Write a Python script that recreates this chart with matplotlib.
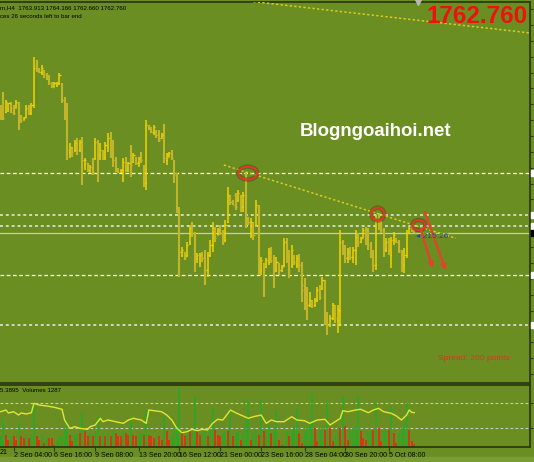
import numpy as np
import matplotlib
matplotlib.use("Agg")
import matplotlib.pyplot as plt
from matplotlib.patches import Ellipse, Rectangle
from matplotlib import patheffects as pe
import matplotlib.transforms as mtransforms

# ---------------- data (XAUUSD H4) ----------------
opens = [1814.0, 1811.1, 1812.3, 1814.0, 1816.0, 1814.0, 1814.0, 1816.0, 1810.3, 1809.1,
         1810.3, 1814.0, 1811.9, 1815.2, 1831.6, 1829.6, 1828.7, 1828.7, 1827.5, 1826.3,
         1824.2, 1822.6, 1823.4, 1824.2, 1823.4, 1817.3, 1810.3, 1795.9, 1798.0, 1796.8,
         1799.6, 1796.8, 1800.0, 1790.6, 1791.4, 1788.6, 1791.4, 1793.5, 1800.0, 1794.7,
         1795.9, 1793.9, 1798.0, 1801.7, 1798.8, 1792.7, 1789.0, 1787.8, 1788.6, 1792.7,
         1788.6, 1792.7, 1791.9, 1793.5, 1791.4, 1794.7, 1789.4, 1783.3, 1807.0, 1806.2,
         1804.1, 1805.0, 1803.7, 1801.7, 1802.9, 1792.7, 1793.9, 1795.5, 1792.7, 1786.5,
         1772.2, 1753.7, 1755.0, 1753.7, 1759.1, 1764.8, 1761.9, 1752.5, 1750.9, 1754.6,
         1753.7, 1747.6, 1753.7, 1757.8, 1764.8, 1761.9, 1764.8, 1763.2, 1759.9, 1767.3,
         1778.3, 1776.3, 1778.3, 1776.3, 1778.3, 1773.4, 1778.3, 1769.3, 1761.9, 1766.0,
         1766.0, 1773.4, 1747.6, 1750.5, 1748.8, 1750.9, 1755.8, 1751.7, 1747.6, 1750.5,
         1747.6, 1749.6, 1759.1, 1753.7, 1749.6, 1753.7, 1749.6, 1752.5, 1749.6, 1741.5,
         1735.3, 1733.3, 1734.5, 1733.3, 1735.3, 1739.4, 1740.2, 1743.5, 1729.2, 1725.1,
         1727.9, 1733.3, 1727.1, 1731.2, 1759.1, 1755.8, 1752.5, 1755.0, 1752.9, 1755.8,
         1761.1, 1759.1, 1760.7, 1764.0, 1759.9, 1757.8, 1753.7, 1749.6, 1768.9, 1766.0,
         1764.0, 1755.8, 1759.1, 1753.7, 1759.9, 1760.7, 1759.1, 1755.0, 1749.6, 1753.7,
         1762.8, 1764.8, 1763.913]
highs = [1815.2, 1820.5, 1817.3, 1816.0, 1816.4, 1815.2, 1817.3, 1816.4, 1811.1, 1810.3,
         1815.2, 1815.2, 1816.0, 1834.9, 1833.7, 1830.4, 1831.6, 1829.6, 1828.3, 1827.5,
         1824.6, 1824.6, 1824.6, 1828.3, 1824.2, 1818.5, 1816.0, 1799.6, 1798.0, 1800.9,
         1801.7, 1800.9, 1802.1, 1793.5, 1791.4, 1790.6, 1793.5, 1801.7, 1800.9, 1799.6,
         1796.8, 1800.0, 1803.7, 1804.1, 1800.9, 1793.9, 1789.4, 1789.0, 1793.5, 1793.9,
         1791.9, 1798.8, 1795.5, 1793.9, 1793.9, 1795.9, 1790.6, 1809.1, 1807.0, 1806.2,
         1807.0, 1805.0, 1805.0, 1803.7, 1807.4, 1795.5, 1795.9, 1796.8, 1792.7, 1787.3,
         1773.4, 1757.0, 1755.0, 1759.1, 1766.0, 1767.3, 1763.2, 1754.6, 1754.6, 1755.0,
         1755.8, 1755.0, 1759.9, 1767.3, 1765.2, 1764.8, 1766.0, 1764.0, 1768.1, 1781.6,
         1778.3, 1776.3, 1779.2, 1780.4, 1778.3, 1779.6, 1787.8, 1769.3, 1768.9, 1767.3,
         1776.3, 1774.2, 1752.9, 1750.5, 1752.5, 1756.6, 1757.0, 1753.7, 1752.9, 1750.5,
         1749.6, 1760.7, 1760.7, 1755.8, 1757.8, 1753.7, 1753.7, 1754.2, 1750.9, 1744.3,
         1740.6, 1738.6, 1735.3, 1736.1, 1740.6, 1741.5, 1744.7, 1743.5, 1730.4, 1729.2,
         1734.1, 1733.3, 1733.3, 1764.0, 1759.9, 1757.8, 1756.6, 1757.0, 1757.0, 1764.0,
         1762.8, 1761.1, 1764.8, 1765.2, 1764.8, 1759.1, 1755.8, 1770.1, 1771.0, 1768.1,
         1764.8, 1760.7, 1760.7, 1761.1, 1763.2, 1760.7, 1759.9, 1755.8, 1756.6, 1764.0,
         1765.2, 1766.0, 1764.166]
lows = [1809.1, 1809.1, 1811.9, 1812.3, 1811.9, 1811.1, 1814.0, 1805.0, 1807.8, 1809.1,
        1809.9, 1811.1, 1811.1, 1814.0, 1828.7, 1828.3, 1827.5, 1826.3, 1825.5, 1823.4,
        1822.2, 1822.6, 1822.6, 1823.4, 1816.0, 1809.1, 1792.7, 1793.5, 1793.9, 1795.9,
        1794.7, 1795.9, 1782.4, 1788.6, 1787.8, 1787.3, 1786.5, 1792.7, 1783.7, 1792.7,
        1792.7, 1792.7, 1795.9, 1793.5, 1789.8, 1787.8, 1787.3, 1787.3, 1783.7, 1787.8,
        1787.8, 1785.7, 1791.4, 1790.6, 1789.8, 1791.4, 1781.6, 1780.4, 1805.0, 1803.7,
        1802.9, 1801.7, 1800.0, 1801.7, 1791.4, 1790.6, 1793.9, 1792.7, 1783.3, 1771.0,
        1744.7, 1752.9, 1751.7, 1752.9, 1757.8, 1761.1, 1746.8, 1750.5, 1748.8, 1750.9,
        1741.5, 1744.7, 1752.9, 1755.0, 1759.1, 1761.9, 1761.9, 1757.8, 1759.1, 1766.9,
        1774.2, 1774.2, 1772.2, 1775.5, 1771.4, 1771.4, 1764.8, 1766.0, 1760.7, 1759.9,
        1765.2, 1745.5, 1745.5, 1736.5, 1748.4, 1749.6, 1750.5, 1740.2, 1746.8, 1745.5,
        1746.8, 1748.8, 1750.5, 1744.3, 1748.4, 1749.6, 1748.4, 1746.8, 1734.5, 1731.2,
        1727.1, 1732.4, 1732.0, 1732.4, 1734.5, 1735.3, 1739.4, 1725.1, 1721.0, 1724.2,
        1727.1, 1725.9, 1721.8, 1725.1, 1753.7, 1750.5, 1750.5, 1751.7, 1750.5, 1749.6,
        1757.0, 1758.7, 1760.7, 1757.8, 1755.8, 1752.5, 1746.8, 1747.6, 1764.0, 1762.8,
        1752.9, 1755.0, 1753.7, 1748.4, 1757.8, 1758.7, 1754.6, 1746.8, 1746.4, 1752.5,
        1762.8, 1763.2, 1762.660]
closes = [1811.1, 1809.9, 1816.4, 1816.0, 1812.3, 1811.9, 1816.4, 1809.9, 1809.1, 1809.9,
          1814.0, 1811.9, 1815.2, 1830.4, 1829.6, 1828.7, 1830.4, 1827.5, 1826.3, 1824.2,
          1822.6, 1824.2, 1824.2, 1827.5, 1817.3, 1810.3, 1796.8, 1798.0, 1795.9, 1799.6,
          1796.8, 1800.0, 1792.7, 1792.7, 1788.6, 1789.8, 1787.8, 1800.0, 1794.7, 1796.8,
          1793.9, 1798.8, 1801.7, 1796.8, 1792.7, 1788.6, 1787.8, 1788.6, 1791.9, 1789.4,
          1791.4, 1790.6, 1794.7, 1791.4, 1793.5, 1792.7, 1783.3, 1807.0, 1806.2, 1804.1,
          1806.2, 1802.9, 1800.9, 1802.9, 1793.5, 1794.7, 1795.5, 1793.5, 1786.5, 1772.2,
          1755.0, 1755.8, 1752.9, 1757.8, 1764.8, 1761.9, 1752.5, 1753.7, 1753.7, 1752.5,
          1747.6, 1753.7, 1757.8, 1764.8, 1760.7, 1764.0, 1762.8, 1759.1, 1766.0, 1778.3,
          1775.5, 1774.2, 1773.4, 1779.2, 1773.4, 1778.3, 1769.3, 1767.3, 1767.3, 1761.9,
          1774.2, 1751.7, 1751.7, 1747.6, 1751.7, 1755.0, 1751.7, 1747.6, 1750.9, 1747.6,
          1748.8, 1759.1, 1752.5, 1747.6, 1755.8, 1750.9, 1752.5, 1749.6, 1739.4, 1735.3,
          1733.3, 1735.3, 1733.3, 1735.3, 1739.4, 1736.5, 1743.5, 1729.2, 1725.1, 1727.9,
          1733.3, 1727.9, 1731.2, 1759.1, 1755.8, 1752.5, 1755.0, 1752.9, 1755.8, 1761.1,
          1759.1, 1760.7, 1764.0, 1759.9, 1757.8, 1753.7, 1749.6, 1768.1, 1766.0, 1764.0,
          1755.8, 1759.1, 1755.8, 1759.9, 1761.9, 1759.1, 1755.8, 1749.6, 1753.7, 1762.8,
          1764.8, 1764.0, 1762.760]
volumes = [4810, 11310, 4810, 2860, 4160, 4160, 2860, 9360, 4160, 3510,
           4810, 3510, 4810, 17160, 4160, 2860, 4810, 1560, 3510, 3510,
           3510, 910, 2210, 4160, 4810, 6760, 10660, 4810, 2210, 4810,
           5460, 5460, 13260, 6110, 4160, 5460, 4160, 5460, 11960, 4160,
           5460, 4160, 5460, 4160, 6110, 5460, 4160, 4160, 6110, 5460,
           4810, 10660, 4810, 4160, 4810, 5460, 4810, 14560, 4810, 4160,
           3510, 4160, 4160, 2860, 11960, 6110, 2860, 4160, 7410, 8710,
           23010, 6110, 4160, 6760, 6110, 6760, 19760, 6110, 4810, 5460,
           6760, 4160, 6760, 15210, 6760, 4810, 4160, 5460, 6110, 6110,
           14560, 4160, 5460, 6110, 2860, 5460, 10660, 19110, 2860, 5460,
           6760, 4810, 18460, 6110, 6760, 8710, 5460, 6760, 14560, 2860,
           910, 1300, 6760, 4160, 6110, 8060, 15210, 5460, 1560, 5460,
           8060, 8710, 21060, 7410, 2210, 6110, 8060, 6760, 17810, 7410,
           2210, 4810, 7410, 7410, 19760, 8060, 2860, 6110, 7410, 8060,
           19760, 6110, 3510, 2860, 6110, 6760, 6760, 17160, 7410, 2210,
           6110, 6760, 6760, 15860, 5460, 1560, 5460, 7410, 9360, 17160,
           6760, 2210, 1287]
ma_bar = [0, 2, 3, 5, 7, 8, 10, 12, 13, 15, 18, 21, 24, 25, 27, 29, 31, 34, 35, 37,
          39, 40, 42, 45, 48, 50, 52, 55, 57, 58, 60, 63, 65, 67, 69, 71, 73, 75, 77, 79,
          81, 83, 85, 87, 90, 92, 94, 97, 99, 102, 104, 106, 108, 111, 114, 116, 119, 121,
          124, 127, 129, 131, 133, 134, 136, 139, 141, 144, 146, 148, 150, 153, 155, 157,
          159, 160, 161, 162]
ma_val = [13770, 14430, 13260, 13770, 12480, 13260, 12870, 13380, 17040, 16380, 15990,
          15480, 14700, 10530, 7290, 7920, 7290, 6900, 7920, 8580, 11190, 9870, 10530, 9870,
          9240, 10530, 11190, 10530, 9240, 14430, 14160, 13770, 12480, 10530, 7290, 5580,
          5970, 6900, 6360, 6900, 6630, 9240, 10800, 10530, 14430, 13380, 12480, 11190,
          11820, 12480, 9240, 10530, 9870, 9870, 11820, 10530, 10260, 9240, 10530, 10800,
          8580, 9870, 11190, 14160, 13770, 14430, 14700, 13380, 14430, 15090, 13770, 13140,
          12090, 10530, 12480, 14430, 13530, 13380]
tick_bars = [5, 21, 37, 54, 70, 86, 102, 119, 135, 152]
tick_labels = ["2 Sep 04:00", "6 Sep 16:00", "9 Sep 08:00", "13 Sep 20:00", "16 Sep 12:00",
               "21 Sep 00:00", "23 Sep 16:00", "28 Sep 04:00", "30 Sep 20:00", "5 Oct 08:00"]
levels_dashed = [1787.3, 1745.5]
levels_dotted = [1770.1, 1765.6, 1725.1]
current_price = 1762.76
trend1_x = [87.4, 178.3]
trend1_y = [1790.6, 1760.6]
trend2_x = [90.0, 210.0]
trend2_y = [1858.6, 1844.4]
vol_levels = [17160, 7410]

# ---------------- style ----------------
W, H = 534, 462
BG = '#6B8E23'
DARK = '#2E3A12'
BULL = '#F2D400'
BEAR = '#C2B52A'
plt.rcParams['font.family'] = ['Liberation Sans', 'DejaVu Sans']

fig = plt.figure(figsize=(W / 100, H / 100), dpi=100, facecolor=BG)

def fx(px):
    return px / W

def fy(py):
    return 1 - py / H

# lighter strip at the very bottom of the window
fig.patches.append(Rectangle((0, 0), 1, 5 / H, transform=fig.transFigure,
                             color='#7A9C34', zorder=0))

# price panel: px y 2..383, x 0..530
ax = fig.add_axes([0, fy(383), fx(530), (383 - 2) / H], facecolor=BG)
axv = fig.add_axes([0, fy(447), fx(530), (447 - 385) / H], facecolor=BG)

n = len(opens)
x = np.arange(n)
o = np.array(opens); h = np.array(highs); l = np.array(lows); c = np.array(closes)
bull = c >= o

xmin = -0.3
xmax = xmin + 530 / 2.5525
for a in (ax, axv):
    a.set_xlim(xmin, xmax)
    a.spines['left'].set_visible(False)
    for s in ('top', 'right', 'bottom'):
        a.spines[s].set_color(DARK)
        a.spines[s].set_linewidth(1.3)
ax.set_ylim(1701.3, 1857.4)
axv.set_ylim(0, 24180)

# horizontal levels
for lv in levels_dashed:
    ax.axhline(lv, color='white', lw=0.9, dashes=(3, 2), zorder=1)
for lv in levels_dotted:
    ax.axhline(lv, color='#D2D6C2', lw=1.4, dashes=(1.5, 1.5), zorder=1)
ax.axhline(current_price, color='#C8C8C8', lw=0.9, zorder=1)

# OHLC bars
for mask, col, lw in ((~bull, BEAR, 1.5), (bull, BULL, 1.1)):
    ax.vlines(x[mask], l[mask], h[mask], color=col, lw=lw, zorder=3)
    ax.hlines(o[mask], x[mask] - 0.45, x[mask], color=col, lw=1.0, zorder=3)
    ax.hlines(c[mask], x[mask], x[mask] + 0.45, color=col, lw=1.0, zorder=3)

# trend lines
ax.plot(trend1_x, trend1_y, color='#D8CC1E', lw=1.1, dashes=(1.5, 1.5), zorder=4)
ax.plot(trend2_x, trend2_y, color='#D8CC1E', lw=1.1, dashes=(1.5, 1.5), zorder=4)

# circles
shadow = [pe.withStroke(linewidth=3.2, foreground=(0.15, 0.2, 0.05, 0.35))]
for cx, cy, ew, eh in ((96.8, 1787.3, 7.4, 5.3), (147.7, 1770.5, 5.1, 5.3), (163.8, 1766.0, 5.1, 4.1)):
    e = Ellipse((cx, cy), ew, eh, fill=False, edgecolor='#E8352A', lw=1.5, zorder=6,
                path_effects=shadow)
    ax.add_patch(e)

# arrows
for (x0, y0, x1, y1) in ((164.5, 1764.4, 169.2, 1748.4), (166.1, 1771.3, 174.3, 1747.6)):
    ax.annotate('', xy=(x1, y1), xytext=(x0, y0),
                arrowprops=dict(arrowstyle='-|>', color='#E8402A', lw=1.6, mutation_scale=7,
                                shrinkA=0, shrinkB=0), zorder=6)

# right axis markers
trans = mtransforms.blended_transform_factory(ax.transAxes, ax.transData)
for lv in levels_dashed + levels_dotted:
    ax.add_patch(Rectangle((1.002, lv - 1.3), 0.01, 2.6, transform=trans, color='white',
                           clip_on=False, zorder=7))
ax.add_patch(Rectangle((1.002, current_price - 1.3), 0.01, 2.6, transform=trans, color='black',
                       clip_on=False, zorder=7))
ax.yaxis.tick_right()
ax.set_yticks(np.arange(1705, 1857, 6.5))
ax.tick_params(axis='y', length=2, width=0.8, color=DARK, labelright=False, direction='out')
ax.set_xticks([])
ax.plot([163.4], [1857.4], marker='v', ms=4, color='#B8B8B8', clip_on=False, zorder=8)

# volume panel
vols = np.array(volumes)
prev = np.concatenate([[0], vols[:-1]])
vcols = np.where(vols > prev, '#2AA82A', '#E62A18')
for lv in vol_levels:
    axv.axhline(lv, color='#C9CDB8', lw=0.8, dashes=(2.5, 2), zorder=1)
axv.vlines(x, 0, vols, colors=vcols, lw=1.2, zorder=2)
axv.plot(ma_bar, ma_val, color='#E2E632', lw=1.0, zorder=3)
axv.yaxis.tick_right()
axv.set_yticks([7410, 17160])
axv.tick_params(axis='y', length=2, color=DARK, labelright=False)
axv.set_xticks(tick_bars)
axv.set_xticklabels(tick_labels, ha='left', fontsize=5, color='black')
axv.tick_params(axis='x', length=3, width=0.8, color=DARK, pad=0.5, direction='out')

# texts
fig.text(fx(0), fy(7.5), "m,H4  1763.913 1764.166 1762.660 1762.760", fontsize=4.4,
         color='black', ha='left', va='center')
fig.text(fx(0), fy(16), "ces 26 seconds left to bar end", fontsize=4.4,
         color='black', ha='left', va='center')
fig.text(fx(528), fy(16.5), "1762.760", fontsize=17.5, fontweight='bold', color='#F01010',
         ha='right', va='center')
fig.text(fx(300), fy(131), "Blogngoaihoi.net", fontsize=13.4, fontweight='bold', color='white',
         ha='left', va='center')
fig.text(fx(438), fy(358), "Spread: 200 points", fontsize=6.1, color='#E8301E',
         ha='left', va='center')
fig.text(fx(416), fy(237), "\u25c2 215:26", fontsize=6, color='#2B3FA8', ha='left', va='center')
fig.text(fx(0), fy(390), "5.3895  Volumes 1287", fontsize=4.4, color='black', ha='left', va='center')
fig.text(fx(0), fy(453), "21", fontsize=5, color='black', ha='left', va='center')

fig.savefig('out.png', dpi=100, facecolor=BG)
